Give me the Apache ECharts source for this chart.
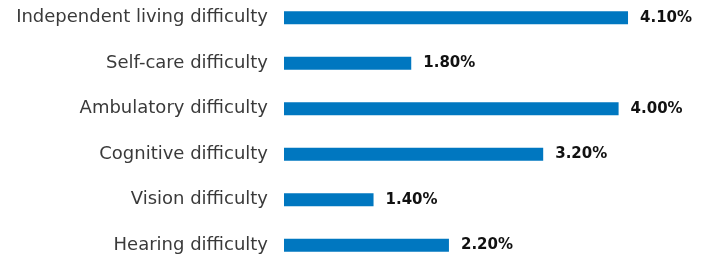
<!DOCTYPE html>
<html>
<head>
<meta charset="utf-8">
<script src="https://cdn.jsdelivr.net/npm/echarts@6/dist/echarts.min.js"></script>
<style>
html, body { margin: 0; padding: 0; background: #fff; }
#main { width: 707px; height: 256px; }
</style>
</head>
<body>
<div id="main"></div>
<script>
// categories, top to bottom
const categories = [
    'Independent living difficulty',
    'Self-care difficulty',
    'Ambulatory difficulty',
    'Cognitive difficulty',
    'Vision difficulty',
    'Hearing difficulty'
];
// percent values
const values = [4.1, 1.8, 4.0, 3.2, 1.4, 2.2];

const chart = echarts.init(document.getElementById('main'));

const option = {
    animation: false,
    grid: {
        left: 284,
        width: 410,
        top: -5,
        height: 273,
        outerBoundsMode: 'none'
    },
    xAxis: {
        type: 'value',
        min: 0.45,
        max: 4.8,
        show: false
    },
    yAxis: {
        type: 'category',
        data: categories,
        inverse: true,
        axisLine: {show: false},
        axisTick: {show: false},
        axisLabel: {
            margin: 16,
            color: '#3a3a3a',
            fontFamily: 'DejaVu Sans',
            fontSize: 18
        }
    },
    series: [
        {
            type: 'bar',
            data: values,
            barWidth: 13,
            itemStyle: {color: '#0077c0'},
            label: {
                show: true,
                position: 'right',
                distance: 12,
                color: '#111',
                fontFamily: 'DejaVu Sans',
                fontWeight: 'bold',
                fontSize: 15,
                formatter: p => p.value.toFixed(2) + '%'
            }
        }
    ]
};

chart.setOption(option);
</script>
</body>
</html>
